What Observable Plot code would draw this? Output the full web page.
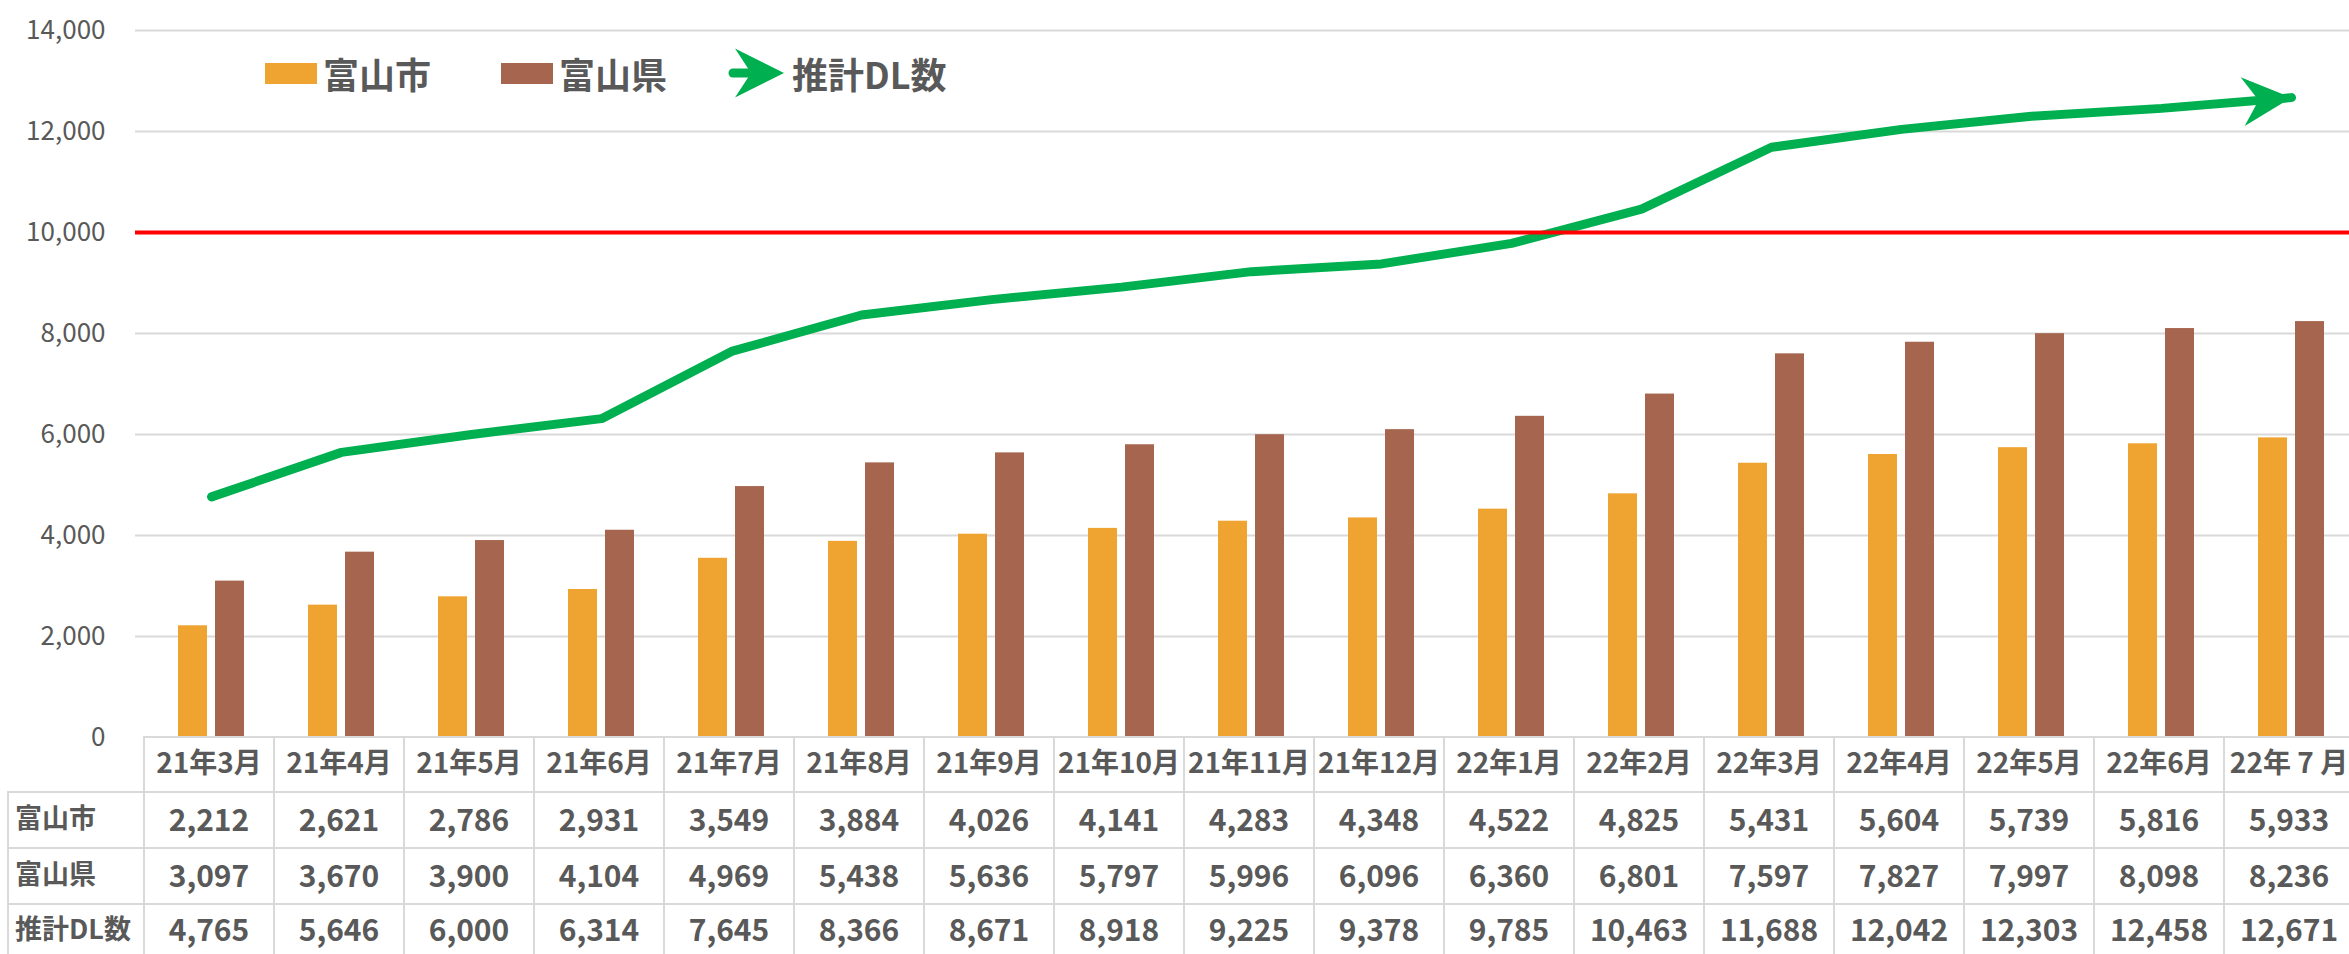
<!DOCTYPE html>
<html>
<head>
<meta charset="utf-8">
<script src="https://cdn.jsdelivr.net/npm/d3@7"></script>
<script src="https://cdn.jsdelivr.net/npm/@observablehq/plot@0.6"></script>
<style>
  html, body { margin: 0; padding: 0; background: #fff; }
  #wrap { position: relative; width: 2349px; height: 954px; overflow: hidden;
          font-family: "Noto Sans CJK JP", "Noto Sans", sans-serif; }
  #wrap > svg.main { position: absolute; left: 0; top: 0; }
  .leg { position: absolute; display: flex; align-items: center; color: #595959;
         font-weight: bold; font-size: 36px; line-height: 1; white-space: nowrap; }
  .leg svg { display: block; }
  .sw { display: inline-block; width: 52px; height: 21px; margin-right: 6px; }
  table.tbl { position: absolute; top: 736px; border-collapse: collapse; table-layout: fixed;
              color: #595959; font-weight: bold; font-size: 30px; }
  table.tbl td { border: 2px solid #d9d9d9; text-align: center; padding: 0 0 5px 0; white-space: nowrap; overflow: hidden; line-height: 1.2; }
  table.tbl tr.hd td { font-size: 28px; }
  table.tbl td.rl { text-align: left; padding-left: 6px; font-size: 27px; }
  table.tbl td.corner { border-top: none; border-left: none; }
</style>
</head>
<body>
<div id="wrap"></div>
<script>
// ---- data ----
const months = ["21年3月","21年4月","21年5月","21年6月","21年7月","21年8月","21年9月","21年10月","21年11月","21年12月","22年1月","22年2月","22年3月","22年4月","22年5月","22年6月","22年 7 月"];
const cityValues = [2212,2621,2786,2931,3549,3884,4026,4141,4283,4348,4522,4825,5431,5604,5739,5816,5933];
const prefValues = [3097,3670,3900,4104,4969,5438,5636,5797,5996,6096,6360,6801,7597,7827,7997,8098,8236];
const dlValues = [4765,5646,6000,6314,7645,8366,8671,8918,9225,9378,9785,10463,11688,12042,12303,12458,12671];
const seriesNames = ["富山市","富山県","推計DL数"];
const targetValue = 10000;
const yTicks = [0,2000,4000,6000,8000,10000,12000,14000];

// ---- styles ----
const cityColor = "#EFA330";
const prefColor = "#A5654E";
const dlColor = "#00B050";
const W = 2349, H = 954;
const plotBottom = 737;
const colLeft = 143, colStep = 130.3;

const rows = months.map((m, i) => ({month: m, city: cityValues[i], pref: prefValues[i], dl: dlValues[i]}));
const fmt = d3.format(",");

const chart = Plot.plot({
  width: W, height: H,
  marginLeft: 135, marginRight: 0, marginTop: 30, marginBottom: H - plotBottom,
  style: {color: "#595959", fontFamily: "'Noto Sans CJK JP', 'Noto Sans', sans-serif", background: "transparent"},
  x: {type: "band", domain: months, range: [colLeft, colLeft + months.length * colStep], padding: 0, axis: null},
  y: {domain: [0, 14000], axis: null},
  marks: [
    Plot.ruleY(yTicks.filter(d => d > 0), {stroke: "#d9d9d9", strokeWidth: 2}),
    Plot.axisY(yTicks, {tickSize: 0, tickPadding: 30, tickFormat: fmt, fontSize: 26, label: null}),
    Plot.barY(rows, {x: "month", y: "city", fill: cityColor, insetLeft: 32, insetRight: 69}),
    Plot.barY(rows, {x: "month", y: "pref", fill: prefColor, insetLeft: 69, insetRight: 32}),
    Plot.line(rows, {x: "month", y: "dl", stroke: dlColor, strokeWidth: 9, strokeLinecap: "round", strokeLinejoin: "round", markerEnd: "arrow"}),
    Plot.ruleY([targetValue], {stroke: "#FF0000", strokeWidth: 4})
  ]
});
chart.classList.add("main");

// filled stealth arrowhead
const svgns = "http://www.w3.org/2000/svg";
chart.querySelectorAll("marker").forEach(mk => {
  mk.setAttribute("viewBox", "-55 -30 60 60");
  mk.setAttribute("markerUnits", "userSpaceOnUse");
  mk.setAttribute("markerWidth", 60);
  mk.setAttribute("markerHeight", 60);
  mk.setAttribute("refX", 0);
  mk.setAttribute("refY", 0);
  mk.setAttribute("fill", dlColor);
  mk.setAttribute("stroke", "none");
  while (mk.firstChild) mk.removeChild(mk.firstChild);
  const p = document.createElementNS(svgns, "path");
  p.setAttribute("d", "M0,0L-49,-24.5L-33,0L-49,24.5Z");
  mk.appendChild(p);
});

const wrap = document.getElementById("wrap");
wrap.appendChild(chart);

// ---- legend ----
function legendItem(left, swatch, text) {
  const d = document.createElement("div");
  d.className = "leg";
  d.style.left = left + "px";
  d.style.top = "47px";
  d.style.height = "52px";
  d.appendChild(swatch);
  const t = document.createElement("span");
  t.textContent = text;
  d.appendChild(t);
  wrap.appendChild(d);
}
function rectSwatch(color) {
  const s = document.createElement("span");
  s.className = "sw";
  s.style.background = color;
  return s;
}
legendItem(265, rectSwatch(cityColor), seriesNames[0]);
legendItem(501, rectSwatch(prefColor), seriesNames[1]);
{
  const s = document.createElementNS(svgns, "svg");
  s.setAttribute("width", 58); s.setAttribute("height", 52);
  s.setAttribute("viewBox", "0 0 58 52");
  s.style.marginRight = "6px";
  s.innerHTML = `<line x1="5" y1="26" x2="40" y2="26" stroke="${dlColor}" stroke-width="9" stroke-linecap="round"/>
    <path d="M56,26L7,1.5L23,26L7,50.5Z" fill="${dlColor}"/>`;
  legendItem(728, s, seriesNames[2]);
}

// ---- data table aligned to x scale ----
const xs = chart.scale("x");
const start = xs.range[0];
const bw = xs.bandwidth;
const table = document.createElement("table");
table.className = "tbl";
const firstW = start - 7;
table.style.left = "7px";
table.style.width = (firstW + bw * months.length) + "px";
const cg = document.createElement("colgroup");
const c0 = document.createElement("col"); c0.style.width = firstW + "px"; cg.appendChild(c0);
months.forEach(() => { const c = document.createElement("col"); c.style.width = bw + "px"; cg.appendChild(c); });
table.appendChild(cg);
const header = document.createElement("tr");
header.className = "hd";
header.style.height = "55px";
const corner = document.createElement("td"); corner.className = "corner"; header.appendChild(corner);
months.forEach(m => { const td = document.createElement("td"); td.textContent = m; header.appendChild(td); });
table.appendChild(header);
[[seriesNames[0], cityValues], [seriesNames[1], prefValues], [seriesNames[2], dlValues]].forEach(([name, vals], r) => {
  const tr = document.createElement("tr");
  tr.style.height = (r === 2 ? 53 : 56) + "px";
  const th = document.createElement("td"); th.className = "rl"; th.textContent = name; tr.appendChild(th);
  vals.forEach(v => { const td = document.createElement("td"); td.textContent = fmt(v); tr.appendChild(td); });
  table.appendChild(tr);
});
wrap.appendChild(table);
</script>
</body>
</html>
